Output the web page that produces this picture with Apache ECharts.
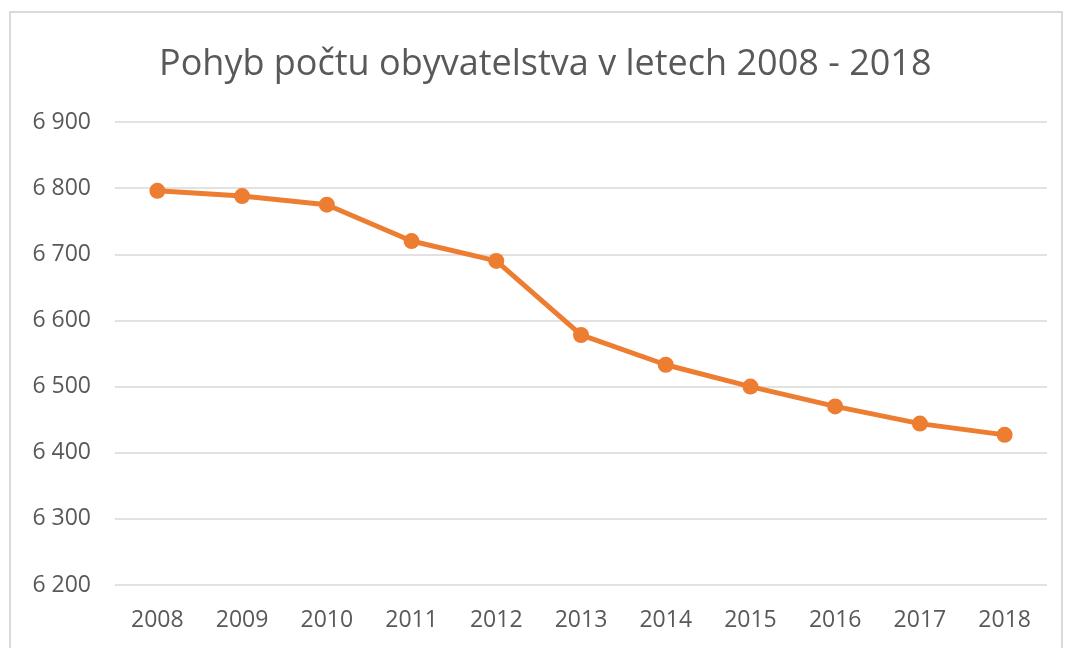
<!DOCTYPE html>
<html>
<head>
    <meta charset="utf-8">
    <title>Pohyb počtu obyvatelstva</title>
    <script src="https://cdn.jsdelivr.net/npm/echarts@6/dist/echarts.min.js"></script>
    <style>
        html, body {
            height: 100%;
            margin: 0;
            padding: 0;
            background-color: #fff;
        }
    </style>
</head>
<body>
<div id="chart-box" style="width:1065px; height:648px;"></div>
<script type="text/javascript">
    const years = ["2008", "2009", "2010", "2011", "2012", "2013", "2014", "2015", "2016", "2017", "2018"];
    const population = [6796, 6788, 6775, 6720, 6690, 6578, 6533, 6500, 6470, 6444, 6427];
    const titleText = "Pohyb počtu obyvatelstva v letech 2008 - 2018";

    const chart = echarts.init(document.getElementById("chart-box"));

    const option = {
        animation: false,
        textStyle: { fontFamily: "Open Sans" },
        title: {
            text: titleText,
            left: 154,
            top: 42,
            textStyle: {
                fontFamily: "Open Sans",
                fontSize: 36,
                fontWeight: "normal",
                color: "#595959"
            }
        },
        graphic: [{
            type: "rect",
            shape: { x: 10, y: 12, width: 1052, height: 700 },
            style: { fill: "none", stroke: "#d9d9d9", lineWidth: 2 },
            silent: true
        }],
        grid: { left: 115, right: 18, top: 122, bottom: 63 },
        xAxis: {
            type: "category",
            data: years,
            boundaryGap: true,
            axisLine: { show: false },
            axisTick: { show: false },
            axisLabel: { color: "#595959", fontSize: 23, margin: 24 }
        },
        yAxis: {
            type: "value",
            min: 6200,
            max: 6900,
            interval: 100,
            axisLine: { show: false },
            axisTick: { show: false },
            splitLine: { lineStyle: { color: "#d9d9d9", width: 1.5 } },
            axisLabel: {
                color: "#595959",
                fontSize: 23,
                margin: 24,
                formatter: v => String(v).replace(/\B(?=(\d{3})+(?!\d))/g, " ")
            }
        },
        series: [{
            type: "line",
            data: population,
            symbol: "circle",
            symbolSize: 16,
            lineStyle: { color: "#ED7D31", width: 5 },
            itemStyle: { color: "#ED7D31" }
        }]
    };
    chart.setOption(option);
</script>
</body>
</html>
